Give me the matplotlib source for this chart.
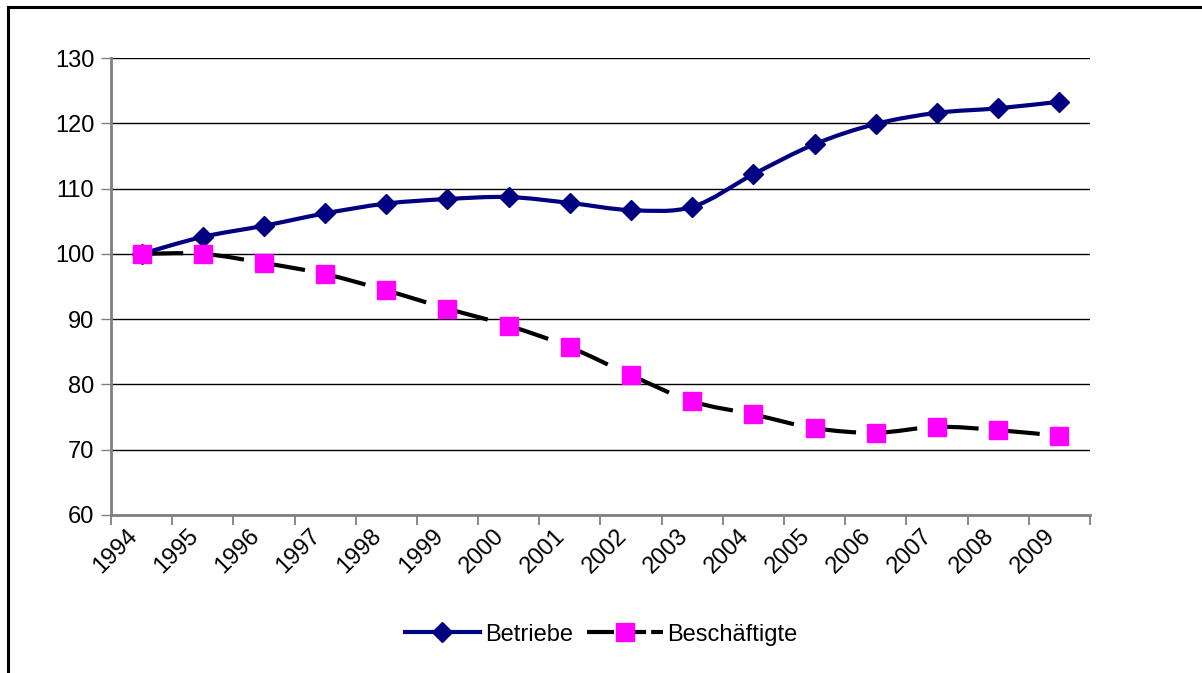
import numpy as np
import matplotlib
matplotlib.use('Agg')
import matplotlib.pyplot as plt
from matplotlib.path import Path
from matplotlib.patches import PathPatch
from matplotlib.lines import Line2D

plt.rcParams['font.family'] = ['Liberation Sans', 'DejaVu Sans']

# Daten (Index 1994 = 100)
jahre = ['1994', '1995', '1996', '1997', '1998', '1999', '2000', '2001',
         '2002', '2003', '2004', '2005', '2006', '2007', '2008', '2009']
betriebe = [100.0, 102.6, 104.3, 106.2, 107.7, 108.4, 108.7, 107.8,
            106.7, 107.2, 112.2, 116.8, 119.9, 121.6, 122.3, 123.3]
beschaeftigte = [100.0, 100.0, 98.6, 96.9, 94.4, 91.6, 89.0, 85.7,
                 81.4, 77.4, 75.4, 73.3, 72.6, 73.5, 73.0, 72.1]


def smooth_segments(x, y):
    # Excel-artige geglaettete Linie: Bezier-Segmente zwischen den Punkten
    p = np.column_stack([x, y])
    pp = np.vstack([p[0], p, p[-1]])
    segs = []
    for i in range(len(p) - 1):
        p0, p1, p2, p3 = pp[i], pp[i + 1], pp[i + 2], pp[i + 3]
        c1 = p1 + (p2 - p0) / 6.0
        c2 = p2 - (p3 - p1) / 6.0
        segs.append(Path([p1, c1, c2, p2],
                         [Path.MOVETO, Path.CURVE4, Path.CURVE4, Path.CURVE4]))
    return segs


fig = plt.figure(figsize=(12.02, 6.73), dpi=100, facecolor='w')
ax = fig.add_axes([0.0923, 0.2348, 0.8145, 0.679])

x = np.arange(len(jahre)) + 0.5

# Betriebe: durchgezogen, navy
for seg in smooth_segments(x, betriebe):
    ax.add_patch(PathPatch(seg, fill=False, edgecolor='#000080', lw=3,
                           capstyle='round', joinstyle='round', zorder=3))
ax.plot(x, betriebe, ls='none', marker='D', ms=10, color='#000080',
        mec='#000080', zorder=4)

# Beschaeftigte: gestrichelt schwarz, Marker magenta
for seg in smooth_segments(x, beschaeftigte):
    ax.add_patch(PathPatch(seg, fill=False, edgecolor='black', lw=3,
                           linestyle=(0, (10, 4.5)), capstyle='butt', zorder=3))
ax.plot(x, beschaeftigte, ls='none', marker='s', ms=13, color='#FF00FF',
        mec='#FF00FF', zorder=4)

ax.set_xlim(0, len(jahre))
ax.set_ylim(60, 130)
ax.set_yticks(np.arange(60, 131, 10))
ax.set_xticks(np.arange(len(jahre) + 1))
ax.set_xticklabels([])
ax.set_xticks(x, minor=True)
ax.set_xticklabels(jahre, minor=True, rotation=45, ha='right', va='top',
                   fontsize=17)
ax.tick_params(axis='x', which='minor', length=0, pad=7)
ax.tick_params(axis='x', which='major', length=7, width=1.3, color='#808080',
               direction='out')
ax.tick_params(axis='y', length=7, width=1, color='#808080', direction='out',
               labelsize=17, pad=5)

ax.grid(axis='y', color='black', lw=1)
ax.set_axisbelow(True)
for s in ['top', 'right']:
    ax.spines[s].set_visible(False)
ax.spines['left'].set_color('#808080')
ax.spines['left'].set_linewidth(2)
ax.spines['bottom'].set_color('#808080')
ax.spines['bottom'].set_linewidth(2)

h1 = Line2D([], [], color='#000080', lw=3, marker='D', ms=10)
h2 = Line2D([], [], color='black', lw=3, ls=(0, (6.5, 1.2)), marker='s', ms=13,
            mfc='#FF00FF', mec='#FF00FF')
fig.legend([h1, h2], ['Betriebe', 'Beschäftigte'], loc='center',
           bbox_to_anchor=(0.5, 0.057), ncol=2, frameon=False, fontsize=17,
           handlelength=3.2, handletextpad=0.2, columnspacing=0.6)

# Rahmen des Diagrammbereichs (rechts/unten abgeschnitten)
fig.add_artist(Line2D([8 / 1202, 8 / 1202], [0, 1 - 7 / 673], color='black',
                      lw=2.2, transform=fig.transFigure))
fig.add_artist(Line2D([8 / 1202, 1], [1 - 7 / 673, 1 - 7 / 673], color='black',
                      lw=2.2, transform=fig.transFigure))

plt.savefig('out.png', dpi=100)
